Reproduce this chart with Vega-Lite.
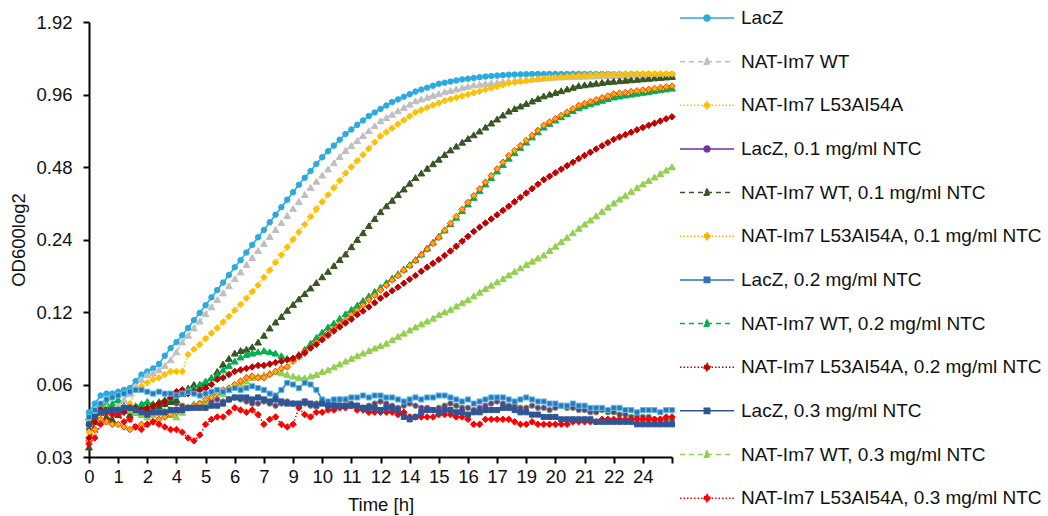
{
"$schema": "https://vega.github.io/schema/vega-lite/v6.json",
"width": 583, "height": 435,
"autosize": {"type": "none"},
"padding": {"left": 89, "top": 22, "right": 376, "bottom": 59},
"background": "white",
"config": {"view": {"stroke": null}, "font": "Liberation Sans"},
"data": {"values": [
{"t":0,"a":0.046,"b":0.042,"c":0.038,"d":0.039,"e":0.033,"f":0.035,"g":0.044,"h":0.044,"i":0.036,"j":0.041,"k":0.042,"l":0.034},
{"t":0.248,"a":0.050,"b":0.045,"c":0.042,"d":0.044,"e":0.042,"f":0.039,"g":0.047,"h":0.047,"i":0.042,"j":0.044,"k":0.045,"l":0.036},
{"t":0.496,"a":0.054,"b":0.048,"c":0.046,"d":0.047,"e":0.046,"f":0.043,"g":0.050,"h":0.049,"i":0.047,"j":0.046,"k":0.047,"l":0.041},
{"t":0.744,"a":0.055,"b":0.049,"c":0.046,"d":0.046,"e":0.044,"f":0.042,"g":0.052,"h":0.050,"i":0.046,"j":0.047,"k":0.049,"l":0.046},
{"t":0.992,"a":0.055,"b":0.049,"c":0.047,"d":0.045,"e":0.043,"f":0.041,"g":0.053,"h":0.050,"i":0.047,"j":0.047,"k":0.047,"l":0.045},
{"t":1.24,"a":0.056,"b":0.050,"c":0.047,"d":0.046,"e":0.045,"f":0.041,"g":0.054,"h":0.052,"i":0.047,"j":0.047,"k":0.046,"l":0.045},
{"t":1.488,"a":0.057,"b":0.052,"c":0.048,"d":0.047,"e":0.047,"f":0.040,"g":0.055,"h":0.049,"i":0.046,"j":0.048,"k":0.048,"l":0.042},
{"t":1.736,"a":0.058,"b":0.055,"c":0.050,"d":0.046,"e":0.045,"f":0.039,"g":0.056,"h":0.048,"i":0.048,"j":0.048,"k":0.047,"l":0.043},
{"t":1.984,"a":0.062,"b":0.059,"c":0.057,"d":0.047,"e":0.046,"f":0.040,"g":0.057,"h":0.049,"i":0.048,"j":0.047,"k":0.046,"l":0.040},
{"t":2.232,"a":0.066,"b":0.063,"c":0.059,"d":0.048,"e":0.048,"f":0.041,"g":0.057,"h":0.050,"i":0.047,"j":0.046,"k":0.045,"l":0.039},
{"t":2.48,"a":0.068,"b":0.066,"c":0.061,"d":0.047,"e":0.047,"f":0.041,"g":0.056,"h":0.051,"i":0.048,"j":0.045,"k":0.044,"l":0.041},
{"t":2.728,"a":0.070,"b":0.067,"c":0.063,"d":0.048,"e":0.047,"f":0.042,"g":0.055,"h":0.050,"i":0.049,"j":0.046,"k":0.045,"l":0.042},
{"t":2.976,"a":0.073,"b":0.069,"c":0.064,"d":0.049,"e":0.049,"f":0.043,"g":0.056,"h":0.051,"i":0.050,"j":0.046,"k":0.046,"l":0.041},
{"t":3.224,"a":0.079,"b":0.072,"c":0.066,"d":0.050,"e":0.050,"f":0.044,"g":0.055,"h":0.052,"i":0.051,"j":0.046,"k":0.047,"l":0.040},
{"t":3.472,"a":0.085,"b":0.076,"c":0.068,"d":0.051,"e":0.051,"f":0.045,"g":0.055,"h":0.053,"i":0.053,"j":0.047,"k":0.045,"l":0.039},
{"t":3.72,"a":0.090,"b":0.082,"c":0.068,"d":0.050,"e":0.052,"f":0.046,"g":0.054,"h":0.055,"i":0.056,"j":0.047,"k":0.044,"l":0.039},
{"t":3.968,"a":0.096,"b":0.090,"c":0.068,"d":0.049,"e":0.055,"f":0.047,"g":0.055,"h":0.056,"i":0.057,"j":0.047,"k":0.046,"l":0.038},
{"t":4.216,"a":0.103,"b":0.096,"c":0.080,"d":0.048,"e":0.058,"f":0.048,"g":0.056,"h":0.057,"i":0.055,"j":0.048,"k":0.048,"l":0.036},
{"t":4.464,"a":0.111,"b":0.103,"c":0.084,"d":0.049,"e":0.060,"f":0.049,"g":0.055,"h":0.058,"i":0.056,"j":0.048,"k":0.050,"l":0.035},
{"t":4.712,"a":0.119,"b":0.110,"c":0.088,"d":0.050,"e":0.060,"f":0.050,"g":0.054,"h":0.060,"i":0.057,"j":0.048,"k":0.049,"l":0.037},
{"t":4.96,"a":0.128,"b":0.118,"c":0.093,"d":0.050,"e":0.061,"f":0.052,"g":0.055,"h":0.062,"i":0.058,"j":0.048,"k":0.051,"l":0.041},
{"t":5.208,"a":0.138,"b":0.126,"c":0.098,"d":0.051,"e":0.064,"f":0.053,"g":0.056,"h":0.064,"i":0.060,"j":0.049,"k":0.054,"l":0.043},
{"t":5.456,"a":0.148,"b":0.135,"c":0.103,"d":0.052,"e":0.068,"f":0.055,"g":0.057,"h":0.066,"i":0.063,"j":0.049,"k":0.056,"l":0.044},
{"t":5.704,"a":0.159,"b":0.144,"c":0.109,"d":0.051,"e":0.073,"f":0.057,"g":0.056,"h":0.069,"i":0.064,"j":0.050,"k":0.055,"l":0.044},
{"t":5.952,"a":0.171,"b":0.154,"c":0.115,"d":0.052,"e":0.077,"f":0.058,"g":0.057,"h":0.072,"i":0.066,"j":0.052,"k":0.057,"l":0.046},
{"t":6.2,"a":0.184,"b":0.165,"c":0.122,"d":0.053,"e":0.081,"f":0.060,"g":0.058,"h":0.075,"i":0.068,"j":0.053,"k":0.059,"l":0.048},
{"t":6.448,"a":0.197,"b":0.176,"c":0.129,"d":0.052,"e":0.083,"f":0.062,"g":0.057,"h":0.078,"i":0.069,"j":0.053,"k":0.060,"l":0.047},
{"t":6.696,"a":0.212,"b":0.189,"c":0.137,"d":0.051,"e":0.084,"f":0.064,"g":0.058,"h":0.080,"i":0.070,"j":0.053,"k":0.062,"l":0.046},
{"t":6.944,"a":0.228,"b":0.202,"c":0.146,"d":0.050,"e":0.086,"f":0.065,"g":0.059,"h":0.081,"i":0.071,"j":0.052,"k":0.064,"l":0.047},
{"t":7.192,"a":0.245,"b":0.216,"c":0.155,"d":0.050,"e":0.090,"f":0.064,"g":0.058,"h":0.082,"i":0.072,"j":0.053,"k":0.065,"l":0.045},
{"t":7.44,"a":0.263,"b":0.231,"c":0.167,"d":0.051,"e":0.096,"f":0.064,"g":0.057,"h":0.083,"i":0.072,"j":0.052,"k":0.066,"l":0.041},
{"t":7.688,"a":0.283,"b":0.247,"c":0.179,"d":0.050,"e":0.103,"f":0.066,"g":0.055,"h":0.082,"i":0.073,"j":0.051,"k":0.067,"l":0.043},
{"t":7.936,"a":0.304,"b":0.264,"c":0.193,"d":0.049,"e":0.109,"f":0.068,"g":0.054,"h":0.081,"i":0.074,"j":0.052,"k":0.068,"l":0.044},
{"t":8.184,"a":0.327,"b":0.282,"c":0.207,"d":0.050,"e":0.115,"f":0.070,"g":0.057,"h":0.079,"i":0.075,"j":0.051,"k":0.067,"l":0.041},
{"t":8.432,"a":0.351,"b":0.302,"c":0.223,"d":0.051,"e":0.122,"f":0.071,"g":0.061,"h":0.077,"i":0.076,"j":0.050,"k":0.066,"l":0.040},
{"t":8.68,"a":0.377,"b":0.323,"c":0.240,"d":0.050,"e":0.129,"f":0.075,"g":0.060,"h":0.077,"i":0.077,"j":0.050,"k":0.065,"l":0.041},
{"t":8.928,"a":0.405,"b":0.345,"c":0.258,"d":0.049,"e":0.136,"f":0.078,"g":0.058,"h":0.080,"i":0.079,"j":0.050,"k":0.064,"l":0.048},
{"t":9.176,"a":0.433,"b":0.369,"c":0.277,"d":0.050,"e":0.143,"f":0.082,"g":0.061,"h":0.084,"i":0.081,"j":0.051,"k":0.064,"l":0.045},
{"t":9.424,"a":0.462,"b":0.395,"c":0.298,"d":0.049,"e":0.151,"f":0.086,"g":0.060,"h":0.089,"i":0.085,"j":0.050,"k":0.065,"l":0.044},
{"t":9.672,"a":0.494,"b":0.419,"c":0.321,"d":0.050,"e":0.159,"f":0.090,"g":0.057,"h":0.094,"i":0.088,"j":0.049,"k":0.066,"l":0.046},
{"t":9.92,"a":0.527,"b":0.444,"c":0.344,"d":0.051,"e":0.168,"f":0.094,"g":0.052,"h":0.099,"i":0.092,"j":0.050,"k":0.068,"l":0.046},
{"t":10.168,"a":0.558,"b":0.471,"c":0.368,"d":0.050,"e":0.177,"f":0.098,"g":0.051,"h":0.104,"i":0.096,"j":0.049,"k":0.069,"l":0.047},
{"t":10.416,"a":0.589,"b":0.500,"c":0.394,"d":0.051,"e":0.187,"f":0.102,"g":0.052,"h":0.108,"i":0.100,"j":0.049,"k":0.071,"l":0.047},
{"t":10.664,"a":0.623,"b":0.530,"c":0.422,"d":0.052,"e":0.198,"f":0.107,"g":0.052,"h":0.113,"i":0.104,"j":0.049,"k":0.073,"l":0.048},
{"t":10.912,"a":0.658,"b":0.562,"c":0.452,"d":0.052,"e":0.209,"f":0.111,"g":0.052,"h":0.118,"i":0.108,"j":0.049,"k":0.075,"l":0.048},
{"t":11.16,"a":0.687,"b":0.589,"c":0.480,"d":0.050,"e":0.224,"f":0.117,"g":0.053,"h":0.123,"i":0.112,"j":0.049,"k":0.077,"l":0.049},
{"t":11.408,"a":0.718,"b":0.618,"c":0.509,"d":0.049,"e":0.240,"f":0.122,"g":0.053,"h":0.128,"i":0.117,"j":0.049,"k":0.079,"l":0.047},
{"t":11.656,"a":0.749,"b":0.648,"c":0.540,"d":0.048,"e":0.256,"f":0.128,"g":0.054,"h":0.134,"i":0.121,"j":0.048,"k":0.081,"l":0.047},
{"t":11.904,"a":0.782,"b":0.679,"c":0.573,"d":0.049,"e":0.274,"f":0.135,"g":0.053,"h":0.140,"i":0.126,"j":0.048,"k":0.083,"l":0.046},
{"t":12.152,"a":0.808,"b":0.712,"c":0.608,"d":0.050,"e":0.293,"f":0.141,"g":0.054,"h":0.146,"i":0.131,"j":0.048,"k":0.085,"l":0.046},
{"t":12.4,"a":0.836,"b":0.746,"c":0.645,"d":0.051,"e":0.313,"f":0.148,"g":0.054,"h":0.152,"i":0.137,"j":0.047,"k":0.087,"l":0.046},
{"t":12.648,"a":0.864,"b":0.770,"c":0.670,"d":0.050,"e":0.331,"f":0.155,"g":0.053,"h":0.159,"i":0.142,"j":0.048,"k":0.089,"l":0.046},
{"t":12.896,"a":0.893,"b":0.795,"c":0.696,"d":0.049,"e":0.349,"f":0.163,"g":0.053,"h":0.166,"i":0.147,"j":0.048,"k":0.092,"l":0.046},
{"t":13.144,"a":0.916,"b":0.821,"c":0.723,"d":0.048,"e":0.369,"f":0.170,"g":0.052,"h":0.173,"i":0.152,"j":0.047,"k":0.095,"l":0.045},
{"t":13.392,"a":0.939,"b":0.848,"c":0.751,"d":0.049,"e":0.389,"f":0.179,"g":0.051,"h":0.181,"i":0.158,"j":0.044,"k":0.098,"l":0.046},
{"t":13.64,"a":0.963,"b":0.875,"c":0.780,"d":0.050,"e":0.411,"f":0.187,"g":0.052,"h":0.189,"i":0.164,"j":0.043,"k":0.101,"l":0.044},
{"t":13.888,"a":0.987,"b":0.903,"c":0.810,"d":0.049,"e":0.434,"f":0.196,"g":0.053,"h":0.198,"i":0.170,"j":0.044,"k":0.104,"l":0.044},
{"t":14.136,"a":1.006,"b":0.919,"c":0.828,"d":0.048,"e":0.453,"f":0.207,"g":0.052,"h":0.209,"i":0.177,"j":0.046,"k":0.107,"l":0.044},
{"t":14.384,"a":1.025,"b":0.935,"c":0.847,"d":0.048,"e":0.474,"f":0.219,"g":0.053,"h":0.221,"i":0.184,"j":0.047,"k":0.110,"l":0.044},
{"t":14.632,"a":1.044,"b":0.952,"c":0.866,"d":0.047,"e":0.495,"f":0.231,"g":0.053,"h":0.234,"i":0.191,"j":0.047,"k":0.113,"l":0.044},
{"t":14.88,"a":1.064,"b":0.968,"c":0.885,"d":0.048,"e":0.517,"f":0.245,"g":0.054,"h":0.248,"i":0.198,"j":0.046,"k":0.117,"l":0.045},
{"t":15.128,"a":1.075,"b":0.985,"c":0.905,"d":0.049,"e":0.541,"f":0.262,"g":0.054,"h":0.263,"i":0.206,"j":0.047,"k":0.120,"l":0.045},
{"t":15.376,"a":1.086,"b":0.998,"c":0.919,"d":0.050,"e":0.565,"f":0.280,"g":0.053,"h":0.279,"i":0.215,"j":0.047,"k":0.123,"l":0.045},
{"t":15.624,"a":1.098,"b":1.012,"c":0.933,"d":0.049,"e":0.586,"f":0.299,"g":0.052,"h":0.297,"i":0.225,"j":0.046,"k":0.127,"l":0.044},
{"t":15.872,"a":1.109,"b":1.025,"c":0.947,"d":0.048,"e":0.608,"f":0.320,"g":0.051,"h":0.316,"i":0.236,"j":0.046,"k":0.131,"l":0.044},
{"t":16.12,"a":1.117,"b":1.039,"c":0.961,"d":0.048,"e":0.630,"f":0.342,"g":0.052,"h":0.337,"i":0.247,"j":0.045,"k":0.135,"l":0.043},
{"t":16.368,"a":1.125,"b":1.052,"c":0.976,"d":0.047,"e":0.653,"f":0.365,"g":0.050,"h":0.359,"i":0.259,"j":0.046,"k":0.140,"l":0.041},
{"t":16.616,"a":1.133,"b":1.059,"c":0.990,"d":0.048,"e":0.677,"f":0.389,"g":0.051,"h":0.383,"i":0.270,"j":0.046,"k":0.145,"l":0.041},
{"t":16.864,"a":1.140,"b":1.066,"c":1.006,"d":0.049,"e":0.703,"f":0.415,"g":0.052,"h":0.408,"i":0.281,"j":0.047,"k":0.150,"l":0.043},
{"t":17.112,"a":1.145,"b":1.072,"c":1.021,"d":0.050,"e":0.731,"f":0.442,"g":0.053,"h":0.434,"i":0.292,"j":0.047,"k":0.155,"l":0.043},
{"t":17.36,"a":1.150,"b":1.079,"c":1.037,"d":0.051,"e":0.759,"f":0.471,"g":0.053,"h":0.462,"i":0.304,"j":0.047,"k":0.160,"l":0.043},
{"t":17.608,"a":1.155,"b":1.086,"c":1.054,"d":0.050,"e":0.789,"f":0.502,"g":0.053,"h":0.491,"i":0.317,"j":0.048,"k":0.165,"l":0.043},
{"t":17.856,"a":1.160,"b":1.093,"c":1.070,"d":0.049,"e":0.819,"f":0.535,"g":0.052,"h":0.522,"i":0.330,"j":0.048,"k":0.171,"l":0.043},
{"t":18.104,"a":1.162,"b":1.098,"c":1.078,"d":0.049,"e":0.839,"f":0.562,"g":0.051,"h":0.550,"i":0.344,"j":0.047,"k":0.177,"l":0.042},
{"t":18.352,"a":1.164,"b":1.103,"c":1.087,"d":0.048,"e":0.860,"f":0.589,"g":0.052,"h":0.579,"i":0.359,"j":0.046,"k":0.183,"l":0.041},
{"t":18.6,"a":1.166,"b":1.108,"c":1.095,"d":0.048,"e":0.881,"f":0.619,"g":0.053,"h":0.609,"i":0.374,"j":0.046,"k":0.189,"l":0.041},
{"t":18.848,"a":1.167,"b":1.113,"c":1.104,"d":0.049,"e":0.902,"f":0.649,"g":0.052,"h":0.640,"i":0.390,"j":0.045,"k":0.195,"l":0.042},
{"t":19.096,"a":1.168,"b":1.118,"c":1.112,"d":0.048,"e":0.924,"f":0.681,"g":0.051,"h":0.672,"i":0.407,"j":0.045,"k":0.201,"l":0.041},
{"t":19.344,"a":1.168,"b":1.123,"c":1.120,"d":0.048,"e":0.947,"f":0.715,"g":0.051,"h":0.703,"i":0.425,"j":0.044,"k":0.207,"l":0.041},
{"t":19.592,"a":1.169,"b":1.128,"c":1.125,"d":0.047,"e":0.963,"f":0.738,"g":0.050,"h":0.728,"i":0.439,"j":0.044,"k":0.216,"l":0.041},
{"t":19.84,"a":1.169,"b":1.133,"c":1.130,"d":0.048,"e":0.979,"f":0.762,"g":0.050,"h":0.752,"i":0.454,"j":0.044,"k":0.225,"l":0.041},
{"t":20.088,"a":1.168,"b":1.135,"c":1.135,"d":0.049,"e":0.995,"f":0.786,"g":0.049,"h":0.776,"i":0.470,"j":0.043,"k":0.235,"l":0.041},
{"t":20.336,"a":1.168,"b":1.137,"c":1.140,"d":0.048,"e":1.012,"f":0.811,"g":0.049,"h":0.800,"i":0.486,"j":0.043,"k":0.245,"l":0.041},
{"t":20.584,"a":1.169,"b":1.139,"c":1.145,"d":0.048,"e":1.028,"f":0.837,"g":0.050,"h":0.823,"i":0.502,"j":0.043,"k":0.256,"l":0.042},
{"t":20.832,"a":1.169,"b":1.141,"c":1.150,"d":0.047,"e":1.045,"f":0.864,"g":0.049,"h":0.846,"i":0.520,"j":0.043,"k":0.267,"l":0.042},
{"t":21.08,"a":1.168,"b":1.143,"c":1.153,"d":0.047,"e":1.053,"f":0.880,"g":0.049,"h":0.862,"i":0.536,"j":0.043,"k":0.278,"l":0.042},
{"t":21.328,"a":1.168,"b":1.145,"c":1.156,"d":0.046,"e":1.061,"f":0.896,"g":0.048,"h":0.878,"i":0.553,"j":0.043,"k":0.289,"l":0.042},
{"t":21.576,"a":1.167,"b":1.147,"c":1.159,"d":0.046,"e":1.069,"f":0.913,"g":0.048,"h":0.893,"i":0.570,"j":0.042,"k":0.301,"l":0.042},
{"t":21.824,"a":1.167,"b":1.149,"c":1.162,"d":0.047,"e":1.077,"f":0.930,"g":0.048,"h":0.908,"i":0.588,"j":0.042,"k":0.314,"l":0.043},
{"t":22.072,"a":1.168,"b":1.150,"c":1.164,"d":0.046,"e":1.085,"f":0.947,"g":0.047,"h":0.923,"i":0.606,"j":0.042,"k":0.327,"l":0.043},
{"t":22.32,"a":1.167,"b":1.151,"c":1.166,"d":0.046,"e":1.090,"f":0.965,"g":0.048,"h":0.937,"i":0.625,"j":0.042,"k":0.340,"l":0.043},
{"t":22.568,"a":1.167,"b":1.152,"c":1.167,"d":0.045,"e":1.095,"f":0.972,"g":0.048,"h":0.946,"i":0.640,"j":0.042,"k":0.353,"l":0.043},
{"t":22.816,"a":1.166,"b":1.153,"c":1.168,"d":0.045,"e":1.100,"f":0.979,"g":0.047,"h":0.955,"i":0.654,"j":0.042,"k":0.366,"l":0.043},
{"t":23.064,"a":1.166,"b":1.154,"c":1.169,"d":0.044,"e":1.105,"f":0.987,"g":0.047,"h":0.963,"i":0.669,"j":0.042,"k":0.380,"l":0.043},
{"t":23.312,"a":1.166,"b":1.155,"c":1.169,"d":0.044,"e":1.110,"f":0.994,"g":0.046,"h":0.972,"i":0.685,"j":0.041,"k":0.394,"l":0.043},
{"t":23.56,"a":1.165,"b":1.156,"c":1.170,"d":0.044,"e":1.115,"f":1.002,"g":0.047,"h":0.980,"i":0.700,"j":0.041,"k":0.408,"l":0.043},
{"t":23.808,"a":1.165,"b":1.157,"c":1.170,"d":0.044,"e":1.120,"f":1.009,"g":0.047,"h":0.988,"i":0.715,"j":0.041,"k":0.422,"l":0.043},
{"t":24.056,"a":1.165,"b":1.158,"c":1.170,"d":0.043,"e":1.125,"f":1.017,"g":0.047,"h":0.996,"i":0.730,"j":0.041,"k":0.436,"l":0.043},
{"t":24.304,"a":1.164,"b":1.159,"c":1.170,"d":0.043,"e":1.130,"f":1.025,"g":0.046,"h":1.004,"i":0.745,"j":0.041,"k":0.451,"l":0.043},
{"t":24.552,"a":1.164,"b":1.160,"c":1.170,"d":0.043,"e":1.135,"f":1.032,"g":0.047,"h":1.012,"i":0.761,"j":0.041,"k":0.466,"l":0.044},
{"t":24.8,"a":1.164,"b":1.160,"c":1.170,"d":0.043,"e":1.140,"f":1.040,"g":0.047,"h":1.020,"i":0.776,"j":0.041,"k":0.481,"l":0.044}
]},
"transform": [
{"fold": ["a","b","c","d","e","f","g","h","i","j","k","l"], "as": ["key","v"]},
{"lookup": "key", "from": {"data": {"values": [
{"key":"a","series":"LacZ"},
{"key":"b","series":"NAT-Im7 WT"},
{"key":"c","series":"NAT-Im7 L53AI54A"},
{"key":"d","series":"LacZ, 0.1 mg/ml NTC"},
{"key":"e","series":"NAT-Im7 WT, 0.1 mg/ml NTC"},
{"key":"f","series":"NAT-Im7 L53AI54A, 0.1 mg/ml NTC"},
{"key":"g","series":"LacZ, 0.2 mg/ml NTC"},
{"key":"h","series":"NAT-Im7 WT, 0.2 mg/ml NTC"},
{"key":"i","series":"NAT-Im7 L53AI54A, 0.2 mg/ml NTC"},
{"key":"j","series":"LacZ, 0.3 mg/ml NTC"},
{"key":"k","series":"NAT-Im7 WT, 0.3 mg/ml NTC"},
{"key":"l","series":"NAT-Im7 L53AI54A, 0.3 mg/ml NTC"}
]}, "key": "key", "fields": ["series"]}}
],
"encoding": {
"x": {"field": "t", "type": "quantitative",
  "scale": {"domain": [0, 24.8], "nice": false, "zero": false},
  "axis": {"values": [0,1.24,2.48,3.72,4.96,6.2,7.44,8.68,9.92,11.16,12.4,13.64,14.88,16.12,17.36,18.6,19.84,21.08,22.32,23.56,24.8],
    "labelExpr": "datum.value > 24 ? '' : format(round(datum.value), 'd')",
    "grid": false, "labelFlush": false, "labelOverlap": false,
    "tickSize": 6, "tickWidth": 2, "tickColor": "#000", "domainWidth": 2, "domainColor": "#000",
    "labelFontSize": 18.5, "labelColor": "#111", "labelFont": "Liberation Sans", "labelPadding": 4,
    "title": "Time [h]", "titleFontSize": 18.5, "titleFontWeight": "normal", "titleColor": "#111", "titleFont": "Liberation Sans", "titlePadding": 10}},
"y": {"field": "v", "type": "quantitative",
  "scale": {"type": "log", "base": 2, "domain": [0.03, 1.92], "nice": false},
  "axis": {"values": [0.03,0.06,0.12,0.24,0.48,0.96,1.92],
    "labelExpr": "format(datum.value, '.2f')",
    "grid": false, "labelFlush": false, "labelOverlap": false,
    "tickSize": 6, "tickWidth": 2, "tickColor": "#000", "domainWidth": 2, "domainColor": "#000",
    "labelFontSize": 18.5, "labelColor": "#111", "labelFont": "Liberation Sans", "labelPadding": 11,
    "title": "OD600log2", "titleFontSize": 18.5, "titleFontWeight": "normal", "titleColor": "#111", "titleFont": "Liberation Sans", "titlePadding": 7}}
},
"layer": [
{"mark": {"type": "line", "strokeWidth": 1.6},
 "encoding": {
  "color": {"field": "series", "type": "nominal",
    "scale": {"domain": ["LacZ","NAT-Im7 WT","NAT-Im7 L53AI54A","LacZ, 0.1 mg/ml NTC","NAT-Im7 WT, 0.1 mg/ml NTC","NAT-Im7 L53AI54A, 0.1 mg/ml NTC","LacZ, 0.2 mg/ml NTC","NAT-Im7 WT, 0.2 mg/ml NTC","NAT-Im7 L53AI54A, 0.2 mg/ml NTC","LacZ, 0.3 mg/ml NTC","NAT-Im7 WT, 0.3 mg/ml NTC","NAT-Im7 L53AI54A, 0.3 mg/ml NTC"],
      "range": ["#29ABE2","#BFBFBF","#FFC000","#7030A0","#375623","#FFB000","#2E75B6","#00B050","#C00000","#2F5597","#92D050","#FF0000"]},
    "legend": {"title": null, "orient": "none", "legendX": 590, "legendY": -32,
      "symbolSize": 2916, "symbolStrokeWidth": 1.5, "symbolOpacity": 1, "labelFontSize": 19, "labelFont": "Liberation Sans", "labelColor": "#111",
      "labelOffset": 6, "rowPadding": 5.65, "labelLimit": 400, "padding": 0}},
  "strokeDash": {"field": "series", "type": "nominal", "legend": null,
    "scale": {"domain": ["LacZ","NAT-Im7 WT","NAT-Im7 L53AI54A","LacZ, 0.1 mg/ml NTC","NAT-Im7 WT, 0.1 mg/ml NTC","NAT-Im7 L53AI54A, 0.1 mg/ml NTC","LacZ, 0.2 mg/ml NTC","NAT-Im7 WT, 0.2 mg/ml NTC","NAT-Im7 L53AI54A, 0.2 mg/ml NTC","LacZ, 0.3 mg/ml NTC","NAT-Im7 WT, 0.3 mg/ml NTC","NAT-Im7 L53AI54A, 0.3 mg/ml NTC"],
      "range": [[1,0],[5,4],[1.5,2],[1,0],[5,4],[1.5,2],[1,0],[5,4],[1.5,2],[1,0],[5,4],[1.5,2]]}}
 }},
{"transform": [{"filter": {"field": "key", "oneOf": ["a","d"]}}],
 "mark": {"type": "point", "shape": "circle", "filled": true, "strokeWidth": 1, "opacity": 1, "size": 30},
 "encoding": {
  "color": {"field": "series", "type": "nominal"},
  "stroke": {"field": "key", "type": "nominal", "legend": null,
    "scale": {"domain": ["a","b","c","d","e","f","g","h","i","j","k","l"],
      "range": ["#29ABE2","#BFBFBF","#FFC000","#70AD47","#375623","#FF3300","#5BBDEB","#00B050","#C00000","#2F5597","#92D050","#FF0000"]}}}},
{"transform": [{"filter": {"field": "key", "oneOf": ["b","e","h","k"]}}],
 "mark": {"type": "point", "shape": "triangle-up", "filled": true, "strokeWidth": 1, "opacity": 1, "size": 46},
 "encoding": {
  "color": {"field": "series", "type": "nominal"},
  "stroke": {"field": "key", "type": "nominal", "legend": null}}},
{"transform": [{"filter": {"field": "key", "oneOf": ["c","f","i","l"]}}],
 "mark": {"type": "point", "shape": "diamond", "filled": true, "strokeWidth": 1, "opacity": 1, "size": 42},
 "encoding": {
  "color": {"field": "series", "type": "nominal"},
  "stroke": {"field": "key", "type": "nominal", "legend": null}}},
{"transform": [{"filter": {"field": "key", "oneOf": ["g","j"]}}],
 "mark": {"type": "point", "shape": "square", "filled": true, "strokeWidth": 1, "opacity": 1, "size": 26},
 "encoding": {
  "color": {"field": "series", "type": "nominal"},
  "stroke": {"field": "key", "type": "nominal", "legend": null}}},
{"transform": [{"filter": "false"}],
 "mark": {"type": "point", "filled": true},
 "encoding": {
  "shape": {"field": "series", "type": "nominal", "legend": null,
    "scale": {"domain": ["LacZ","NAT-Im7 WT","NAT-Im7 L53AI54A","LacZ, 0.1 mg/ml NTC","NAT-Im7 WT, 0.1 mg/ml NTC","NAT-Im7 L53AI54A, 0.1 mg/ml NTC","LacZ, 0.2 mg/ml NTC","NAT-Im7 WT, 0.2 mg/ml NTC","NAT-Im7 L53AI54A, 0.2 mg/ml NTC","LacZ, 0.3 mg/ml NTC","NAT-Im7 WT, 0.3 mg/ml NTC","NAT-Im7 L53AI54A, 0.3 mg/ml NTC"],
      "range": ["M-1,0L1,0M-0.11,0A0.11,0.11,0,1,0,0.11,0A0.11,0.11,0,1,0,-0.11,0Z","M-1,0L1,0M0,-0.13L0.13,0.1L-0.13,0.1Z","M-1,0L1,0M0,-0.14L0.14,0L0,0.14L-0.14,0Z","M-1,0L1,0M-0.11,0A0.11,0.11,0,1,0,0.11,0A0.11,0.11,0,1,0,-0.11,0Z","M-1,0L1,0M0,-0.13L0.13,0.1L-0.13,0.1Z","M-1,0L1,0M0,-0.14L0.14,0L0,0.14L-0.14,0Z","M-1,0L1,0M-0.1,-0.1L0.1,-0.1L0.1,0.1L-0.1,0.1Z","M-1,0L1,0M0,-0.13L0.13,0.1L-0.13,0.1Z","M-1,0L1,0M0,-0.14L0.14,0L0,0.14L-0.14,0Z","M-1,0L1,0M-0.1,-0.1L0.1,-0.1L0.1,0.1L-0.1,0.1Z","M-1,0L1,0M0,-0.13L0.13,0.1L-0.13,0.1Z","M-1,0L1,0M0,-0.14L0.14,0L0,0.14L-0.14,0Z"]}}}}
]
}
